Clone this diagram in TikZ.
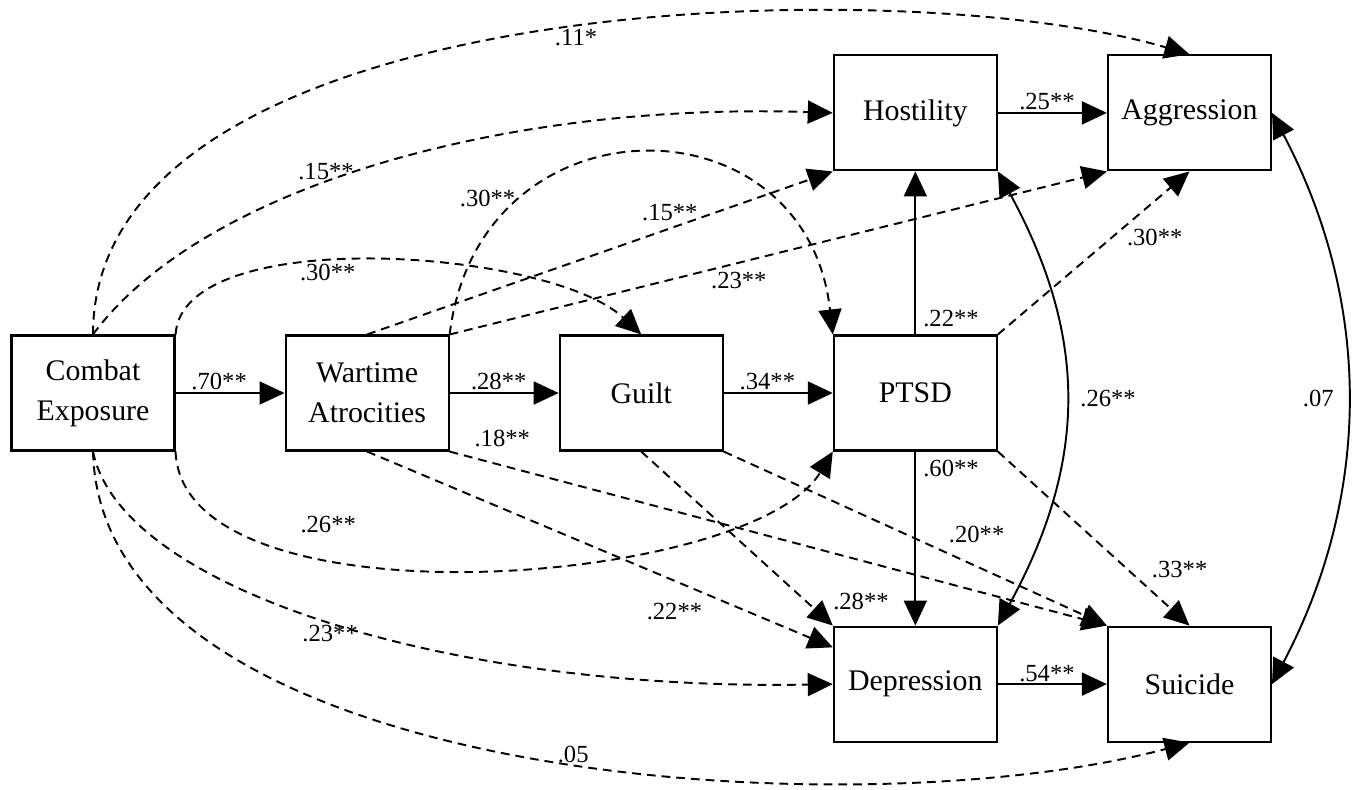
\documentclass[tikz,border=0pt]{standalone}
\usepackage{fontspec}
\setmainfont{Liberation Serif}
\usetikzlibrary{positioning,arrows.meta}

\begin{document}
\begin{tikzpicture}[
    boxStyle/.style={
        rectangle, draw=black, line width=1.2pt, minimum width=3.26cm, minimum height=2.3cm,
        inner sep=2pt, align=center, font=\fontsize{17}{22.7}\selectfont
    },
    pathStyle/.style={-{Triangle[length=0.5cm,width=0.46cm]}, line width=1.1pt},
    dashStyle/.style={pathStyle, dash pattern=on 5pt off 3.4pt},
    covStyle/.style={{Triangle[length=0.5cm,width=0.46cm]}-{Triangle[length=0.5cm,width=0.46cm]}, line width=1.1pt},
    coefStyle/.style={font=\fontsize{14}{16}\selectfont, inner sep=1pt}
]
    \useasboundingbox (0,0) rectangle (27.2,-15.78);

    % Middle row
    \node[boxStyle] (combat) at (1.86,-7.86) {Combat\\Exposure};
    \node[boxStyle, right=2.18cm of combat] (atrocities) {Wartime\\Atrocities};
    \node[boxStyle, right=2.18cm of atrocities] (guilt) {Guilt};
    \node[boxStyle, right=2.18cm of guilt] (ptsd) {PTSD};

    % Upper row
    \node[boxStyle, above=3.26cm of ptsd] (hostility) {Hostility};
    \node[boxStyle, right=2.18cm of hostility] (aggression) {Aggression};

    % Lower row
    \node[boxStyle, below=3.48cm of ptsd] (depression) {Depression};
    \node[boxStyle, right=2.18cm of depression] (suicide) {Suicide};

    % Solid paths
    \draw[pathStyle] (combat) -- node[coefStyle, above, pos=0.4] {.70**} (atrocities);
    \draw[pathStyle] (atrocities) -- node[coefStyle, above, pos=0.45] {.28**} (guilt);
    \draw[pathStyle] (guilt) -- node[coefStyle, above, pos=0.4] {.34**} (ptsd);
    \draw[pathStyle] (hostility) -- node[coefStyle, above, pos=0.45] {.25**} (aggression);
    \draw[pathStyle] (depression) -- node[coefStyle, above, pos=0.45] {.54**} (suicide);
    \draw[pathStyle] (ptsd) -- node[coefStyle, right=3pt, pos=0.1] {.22**} (hostility);
    \draw[pathStyle] (ptsd) -- node[coefStyle, right=3pt, pos=0.1] {.60**} (depression);

    % Covariances
    \draw[covStyle] (hostility.south east) .. controls +(1.8,-3.3) and +(1.8,3.3) .. node[coefStyle, right=7pt] {.26**} (depression.north east);
    \draw[covStyle] (aggression.east) .. controls +(2.0,-3.8) and +(2.0,3.8) .. node[coefStyle, left=6pt] {.07} (suicide.east);

    % Dashed paths from combat exposure
    \draw[dashStyle] (combat.north) .. controls +(0,6.9) and +(-5.78,1.7) .. node[coefStyle, below, pos=0.53] {.11*} (aggression.north);
    \draw[dashStyle] (combat.north) .. controls +(2.16,2.92) and +(-6.64,0.22) .. node[coefStyle, above, pos=0.43] {.15**} (hostility.west);
    \draw[dashStyle] (combat.north east) .. controls +(0.14,2.22) and +(-1.84,1.72) .. node[coefStyle, below, pos=0.42] {.30**} (guilt.north);
    \draw[dashStyle] (combat.south east) .. controls +(0.14,-3.56) and +(-1.64,-2.72) .. node[coefStyle, above=14pt, pos=0.33] {.26**} (ptsd.south west);
    \draw[dashStyle] (combat.south) .. controls +(0.56,-2.76) and +(-7.64,-0.14) .. node[coefStyle, below, pos=0.5] {.23**} (depression.west);
    \draw[dashStyle] (combat.south) .. controls +(0.16,-6.6) and +(-6.78,-1.8) .. node[coefStyle, above=-1pt, pos=0.54] {.05} (suicide.south);

    % Dashed paths from wartime atrocities
    \draw[dashStyle] (atrocities.north east) .. controls +(0.58,4.82) and +(-0.54,4.82) .. node[coefStyle, left, pos=0.25] {.30**} (ptsd.north west);
    \draw[dashStyle] (atrocities.north) -- node[coefStyle, above=3pt, pos=0.65] {.15**} (hostility.south west);
    \draw[dashStyle] (atrocities.north east) -- node[coefStyle, below=4pt, pos=0.44] {.23**} (aggression.south west);
    \draw[dashStyle] (atrocities.south east) -- node[coefStyle, above=9pt, pos=0.08] {.18**} (suicide.north west);
    \draw[dashStyle] (atrocities.south) -- node[coefStyle, below=11pt, pos=0.66] {.22**} (depression.156);

    % Dashed paths from guilt and PTSD
    \draw[dashStyle] (guilt.south east) -- node[coefStyle, above=12pt, pos=0.66] {.20**} (suicide.north west);
    \draw[dashStyle] (guilt.south) -- node[coefStyle, right=14pt, pos=0.86] {.28**} (depression.north west);
    \draw[dashStyle] (ptsd.north east) -- node[coefStyle, below right, pos=0.66] {.30**} (aggression.south);
    \draw[dashStyle] (ptsd.south east) -- node[coefStyle, right=12pt, pos=0.68] {.33**} (suicide.north);
\end{tikzpicture}
\end{document}
